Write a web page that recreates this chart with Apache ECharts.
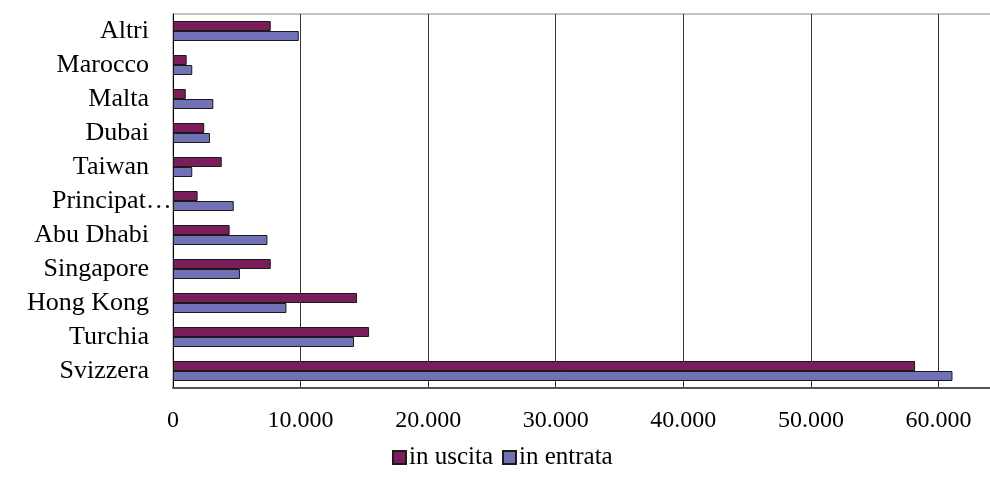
<!DOCTYPE html>
<html>
<head>
<meta charset="utf-8">
<script src="https://cdn.jsdelivr.net/npm/echarts@6/dist/echarts.min.js"></script>
<style>
html,body{margin:0;padding:0;background:#fff;overflow:hidden;}
#c{width:990px;height:487px;}
</style>
</head>
<body>
<div id="c"></div>
<script>
var categories = ['Svizzera','Turchia','Hong Kong','Singapore','Abu Dhabi','Principat\u2026','Taiwan','Dubai','Malta','Marocco','Altri'];
var inUscita  = [58170, 15370, 14430, 7660, 4440, 1930, 3820, 2450, 1000, 1070, 7660];
var inEntrata = [61100, 14190, 8890, 5250, 7400, 4760, 1510, 2900, 3160, 1510, 9860];
var seriesNames = ['in uscita', 'in entrata'];
var tickValues = [0, 10000, 20000, 30000, 40000, 50000, 60000];

function fmt(v) {
  return String(v).replace(/\B(?=(\d{3})+(?!\d))/g, '.');
}
var FONT = 'Liberation Serif';
var FS_X = 24;
var FS_Y = 26;
var LABEL_MARGIN = 24;
// measure the truncated label so it can overflow toward the axis like the reference
var ctx = document.createElement('canvas').getContext('2d');
ctx.font = FS_Y + 'px "' + FONT + '"';
var longW = Math.ceil(ctx.measureText('Principat\u2026').width);

var chart = echarts.init(document.getElementById('c'), null, {renderer: 'canvas'});
chart.setOption({
  animation: false,
  backgroundColor: '#ffffff',
  textStyle: {fontFamily: FONT, color: '#000'},
  grid: {left: 173, right: -25, top: 14, bottom: 99, show: true, borderColor: '#888', borderWidth: 1,
         backgroundColor: 'transparent', outerBoundsMode: 'none', containLabel: false},
  legend: {
    data: seriesNames,
    bottom: 12,
    left: 387,
    icon: 'rect',
    itemWidth: 13, itemHeight: 13, itemGap: 9,
    textStyle: {fontFamily: FONT, fontSize: 25, color: '#000', padding: [0,0,0,-2]}
  },
  xAxis: {
    type: 'value',
    min: 0, max: 66000, interval: 10000,
    axisLine: {show: true, lineStyle: {color: '#555', width: 2}},
    axisTick: {show: false},
    splitLine: {show: true, lineStyle: {color: '#333', width: 1}},
    axisLabel: {
      margin: 21, fontSize: FS_X, fontFamily: FONT, color: '#000', showMaxLabel: true,
      formatter: function (v) { return tickValues.indexOf(v) >= 0 ? fmt(v) : ''; }
    }
  },
  yAxis: {
    type: 'category',
    data: categories,
    axisLine: {show: true, lineStyle: {color: '#000', width: 1}},
    axisTick: {show: false},
    axisLabel: {
      margin: LABEL_MARGIN, fontSize: FS_Y, fontFamily: FONT, color: '#000',
      formatter: function (v) { return v.indexOf('\u2026') >= 0 ? '{p|' + v + '}' : v; },
      rich: {p: {fontSize: FS_Y, fontFamily: FONT, color: '#000', width: longW - LABEL_MARGIN + 1, align: 'left', overflow: 'none'}}
    }
  },
  series: [
    {
      name: 'in uscita', type: 'bar', data: inUscita,
      barWidth: 10, barGap: '0%', barCategoryGap: '40%',
      itemStyle: {color: '#7b1c5b', borderColor: '#1a1a1a', borderWidth: 1}
    },
    {
      name: 'in entrata', type: 'bar', data: inEntrata,
      barWidth: 10, barGap: '0%',
      itemStyle: {color: '#7171b5', borderColor: '#1a1a1a', borderWidth: 1}
    }
  ]
});
</script>
</body>
</html>
